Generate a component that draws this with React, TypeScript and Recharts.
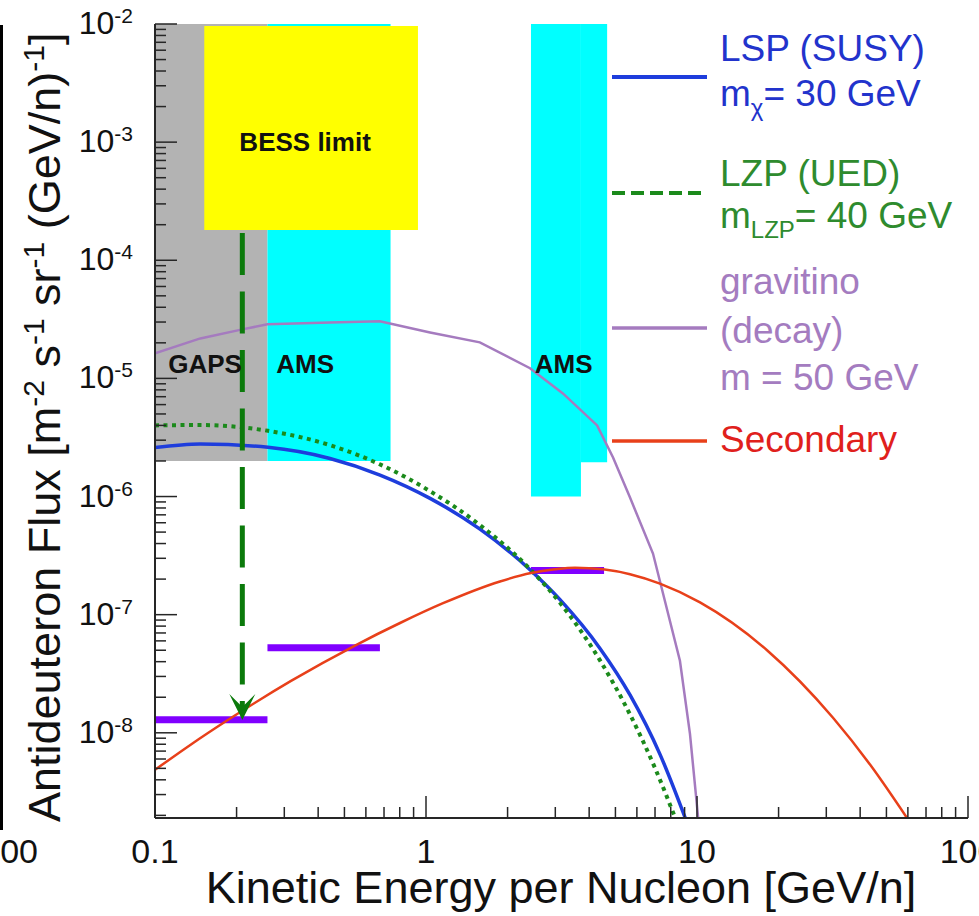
import React from 'react';
import {
  ComposedChart,
  Line,
  XAxis,
  YAxis,
  ReferenceArea,
  ReferenceDot,
} from 'recharts';

const FONT = "'Liberation Sans', Arial, Helvetica, sans-serif";

// kinetic energy per nucleon [GeV/n] and flux [m^-2 s^-1 sr^-1 (GeV/n)^-1]
const lspEnergy = [0.1, 0.1466, 0.2612, 0.4424, 0.6766, 1.035, 1.582, 2.42, 3.123, 4.386, 5.66, 7.303, 9.107];
const lspFlux = [2.6e-6, 2.79e-6, 2.61e-6, 2.1e-6, 1.52e-6, 9.65e-7, 5.29e-7, 2.4e-7, 1.34e-7, 5.18e-8, 2.09e-8, 6.57e-9, 1.83e-9];

const lzpEnergy = [0.1, 0.1466, 0.2612, 0.4424, 0.6766, 1.035, 1.582, 2.42, 3.123, 4.386, 5.66, 7.0, 8.365];
const lzpFlux = [4.0e-6, 4.03e-6, 3.6e-6, 2.72e-6, 1.87e-6, 1.11e-6, 5.73e-7, 2.43e-7, 1.26e-7, 4.1e-8, 1.43e-8, 5.03e-9, 1.83e-9];

const gravEnergy = [0.1, 0.147, 0.21, 0.26, 0.442, 0.676, 1.035, 1.58, 2.42, 3.2, 4.28, 4.9, 5.66, 6.88, 8.65, 9.42, 10.1];
const gravFlux = [1.63e-5, 2.18e-5, 2.6e-5, 2.87e-5, 2.98e-5, 3.04e-5, 2.45e-5, 2.02e-5, 1.22e-5, 7.46e-6, 4.0e-6, 2.14e-6, 9.8e-7, 3.29e-7, 4.07e-8, 9.8e-9, 1.9e-9];

const secEnergy = [0.1, 0.1358, 0.1844, 0.3177, 0.547, 0.802, 1.156, 1.875, 2.441, 2.992, 3.547, 4.5, 5.66, 7.3, 10.26, 18.13, 31.76, 43.5, 59.56];
const secFlux = [4.86e-9, 7.97e-9, 1.27e-8, 2.75e-8, 5.48e-8, 8.5e-8, 1.25e-7, 1.91e-7, 2.25e-7, 2.42e-7, 2.5e-7, 2.42e-7, 2.2e-7, 1.83e-7, 1.27e-7, 5.0e-8, 1.34e-8, 5.38e-9, 1.9e-9];

// sensitivity bars: [eMin, eMax, flux]
const sensitivity = [
  [0.1, 0.26, 1.29e-8],
  [0.26, 0.676, 5.25e-8],
  [2.44, 4.54, 2.36e-7],
];

// shaded regions: [eMin, eMax, fluxMin, fluxMax, colour]
const regions: [number, number, number, number, string][] = [
  [0.1, 0.26, 2e-6, 1e-2, '#b3b3b3'],
  [0.26, 0.74, 2e-6, 1e-2, '#00ffff'],
  [2.44, 3.73, 1e-6, 1e-2, '#00ffff'],
  [3.73, 4.66, 1.95e-6, 1e-2, '#00ffff'],
  [0.152, 0.934, 1.8e-4, 9.6e-3, '#ffff00'],
];

// region labels: [text, energy, flux]
const regionLabels: [string, number, number][] = [
  ['BESS limit', 0.358, 1e-3],
  ['GAPS', 0.153, 1.32e-5],
  ['AMS', 0.358, 1.32e-5],
  ['AMS', 3.22, 1.32e-5],
];

// BESS limit projected down to GAPS
const arrowEnergy = [0.21, 0.21];
const arrowFlux = [1.7e-4, 1.5e-8];

const xMajor = [0.1, 1, 10, 100];
const yExponents = [-9, -8, -7, -6, -5, -4, -3];
const minorSteps = [2, 3, 4, 5, 6, 7, 8, 9];

const X_DOMAIN = [0.1, 100];
const Y_DOMAIN = [1.9e-9, 1e-2];

const pts = (e: number[], f: number[]) => e.map((v, i) => ({ e: v, f: f[i] }));

const xTicks = [
  ...xMajor,
  ...xMajor.slice(0, 3).flatMap(d => minorSteps.map(m => Number((m * d).toPrecision(3)))),
].sort((a, b) => a - b);

const yTicks = [
  ...yExponents.flatMap(p => minorSteps.map(m => Number((m * Math.pow(10, p)).toPrecision(3)))),
  ...yExponents.slice(1).map(p => Number(Math.pow(10, p).toPrecision(3))),
  1e-2,
].sort((a, b) => a - b);

const isDecade = (v: number) => {
  const l = Math.log10(v);
  return Math.abs(l - Math.round(l)) < 1e-6;
};

const AXIS = '#262626';

const XTick = (props: any) => {
  const { x, y, payload } = props;
  const major = isDecade(payload.value);
  return (
    <g>
      <line x1={x} x2={x} y1={y} y2={y - (major ? 22 : 11)} stroke={AXIS} strokeWidth={1.5} />
      {major && (
        <text x={x} y={y + 45} textAnchor="middle" fontSize={34} fill="#111" fontFamily={FONT}>
          {String(payload.value)}
        </text>
      )}
    </g>
  );
};

const YTick = (props: any) => {
  const { x, y, payload } = props;
  const major = isDecade(payload.value);
  const exp = Math.round(Math.log10(payload.value));
  return (
    <g>
      <line x1={x} x2={x + (major ? 22 : 11)} y1={y} y2={y} stroke={AXIS} strokeWidth={1.5} />
      {major && (
        <text x={x - 22} y={y + 10} textAnchor="end" fontSize={32} fill="#111" fontFamily={FONT}>
          <tspan>10</tspan>
          <tspan dy={-11} fontSize={21}>{`-${-exp}`}</tspan>
        </text>
      )}
    </g>
  );
};

const ArrowHead = (props: any) => {
  const { cx, cy, index } = props;
  if (index !== arrowEnergy.length - 1) return <g key={`a${index}`} />;
  return (
    <path
      key={`a${index}`}
      d={`M${cx},${cy + 8} L${cx - 13},${cy - 18} L${cx},${cy - 5} L${cx + 13},${cy - 18} Z`}
      fill="#0b7a0b"
    />
  );
};

const legendRows = [
  { color: '#1e3ddc', y: 77, dash: undefined as string | undefined, width: 4 },
  { color: '#1b8a1b', y: 193, dash: '13 6', width: 4 },
  { color: '#a57bbf', y: 328, dash: undefined, width: 3.5 },
  { color: '#e8401a', y: 441, dash: undefined, width: 3.5 },
];

function Legend() {
  const t = { fontSize: 37, fontFamily: FONT } as const;
  return (
    <svg
      width={979}
      height={916}
      style={{ position: 'absolute', left: 0, top: 0, pointerEvents: 'none' }}
    >
      {legendRows.map((r, i) => (
        <line key={i} x1={612} x2={707} y1={r.y} y2={r.y} stroke={r.color} strokeWidth={r.width} strokeDasharray={r.dash} />
      ))}
      <text x={720} y={61} fill="#2233cc" {...t}>LSP (SUSY)</text>
      <text x={720} y={106} fill="#2233cc" {...t}>
        m<tspan dy={10} fontSize={24}>χ</tspan><tspan dy={-10}>= 30 GeV</tspan>
      </text>
      <text x={720} y={186} fill="#2e8b2e" {...t}>LZP (UED)</text>
      <text x={720} y={228} fill="#2e8b2e" {...t}>
        m<tspan dy={10} fontSize={24}>LZP</tspan><tspan dy={-10}>= 40 GeV</tspan>
      </text>
      <text x={720} y={294} fill="#a47cc0" {...t}>gravitino</text>
      <text x={720} y={343} fill="#a47cc0" {...t}>(decay)</text>
      <text x={720} y={390} fill="#a47cc0" {...t}>m = 50 GeV</text>
      <text x={720} y={452} fill="#e0201c" {...t}>Secondary</text>

      {/* edge of the neighbouring panel */}
      <line x1={1.5} x2={1.5} y1={25} y2={830} stroke="#000" strokeWidth={3} />
      <text x={38} y={863} textAnchor="end" fontSize={34} fill="#111" fontFamily={FONT}>100</text>

      {/* axis titles */}
      <text x={561} y={903} textAnchor="middle" fontSize={45} fill="#111" fontFamily={FONT}>
        Kinetic Energy per Nucleon [GeV/n]
      </text>
      <text x={60} y={822} transform="rotate(-90, 60, 822)" fontSize={45} fill="#111" fontFamily={FONT}>
        Antideuteron Flux [m<tspan dy={-16} fontSize={30}>-2</tspan>
        <tspan dy={16}> s</tspan><tspan dy={-16} fontSize={30}>-1</tspan>
        <tspan dy={16}> sr</tspan><tspan dy={-16} fontSize={30}>-1</tspan>
        <tspan dy={16}> (GeV/n)</tspan><tspan dy={-16} fontSize={30}>-1</tspan>
        <tspan dy={16}>]</tspan>
      </text>
    </svg>
  );
}

export default function App() {
  return (
    <div style={{ position: 'absolute', left: 0, top: 0, width: 979, height: 916, overflow: 'hidden', background: '#fff' }}>
      <ComposedChart
        width={979}
        height={916}
        margin={{ top: 24, right: 11, left: 95, bottom: 38 }}
        style={{ fontFamily: FONT }}
      >
        <XAxis
          dataKey="e"
          type="number"
          scale="log"
          domain={X_DOMAIN}
          allowDataOverflow
          ticks={xTicks}
          interval={0}
          tick={XTick}
          tickLine={false}
          tickSize={0}
          tickMargin={0}
          height={60}
          axisLine={{ stroke: AXIS, strokeWidth: 2 }}
        />
        <XAxis
          xAxisId="top"
          orientation="top"
          type="number"
          scale="log"
          domain={X_DOMAIN}
          allowDataOverflow
          tick={false}
          tickLine={false}
          height={0}
          axisLine={{ stroke: AXIS, strokeWidth: 2 }}
        />
        <YAxis
          type="number"
          scale="log"
          domain={Y_DOMAIN}
          allowDataOverflow
          ticks={yTicks}
          interval={0}
          tick={YTick}
          tickLine={false}
          tickSize={0}
          tickMargin={0}
          width={60}
          axisLine={{ stroke: AXIS, strokeWidth: 2 }}
        />
        <YAxis
          yAxisId="right"
          orientation="right"
          type="number"
          scale="log"
          domain={Y_DOMAIN}
          allowDataOverflow
          tick={false}
          tickLine={false}
          width={0}
          axisLine={{ stroke: AXIS, strokeWidth: 2 }}
        />

        {regions.map(([x1, x2, y1, y2, c], i) => (
          <ReferenceArea key={`r${i}`} x1={x1} x2={x2} y1={y1} y2={y2} fill={c} fillOpacity={1} stroke="none" />
        ))}

        {regionLabels.map(([txt, e, f], i) => (
          <ReferenceDot
            key={`l${i}`}
            x={e}
            y={f}
            r={0}
            shape={(p: any) => (
              <text x={p.cx} y={p.cy + 9} textAnchor="middle" fontSize={26} fontWeight="bold" fill="#111" fontFamily={FONT}>
                {txt}
              </text>
            )}
          />
        ))}

        {sensitivity.map(([e1, e2, f], i) => (
          <Line
            key={`s${i}`}
            data={[{ e: e1, f }, { e: e2, f }]}
            dataKey="f"
            type="linear"
            stroke="#8000ff"
            strokeWidth={7}
            dot={false}
            activeDot={false}
            isAnimationActive={false}
          />
        ))}

        <Line data={pts(gravEnergy, gravFlux)} dataKey="f" type="linear" stroke="#a57bbf" strokeWidth={2.5} dot={false} activeDot={false} isAnimationActive={false} />
        <Line data={pts(lspEnergy, lspFlux)} dataKey="f" type="monotone" stroke="#1e3ddc" strokeWidth={3.5} dot={false} activeDot={false} isAnimationActive={false} />
        <Line data={pts(lzpEnergy, lzpFlux)} dataKey="f" type="monotone" stroke="#1b8a1b" strokeWidth={4} strokeDasharray="4 4.5" dot={false} activeDot={false} isAnimationActive={false} />
        <Line data={pts(secEnergy, secFlux)} dataKey="f" type="monotone" stroke="#e8401a" strokeWidth={2.5} dot={false} activeDot={false} isAnimationActive={false} />

        <Line
          data={pts(arrowEnergy, arrowFlux)}
          dataKey="f"
          type="linear"
          stroke="#0b7a0b"
          strokeWidth={5}
          strokeDasharray="42 16.5"
          dot={ArrowHead}
          activeDot={false}
          isAnimationActive={false}
        />
      </ComposedChart>
      <Legend />
    </div>
  );
}
